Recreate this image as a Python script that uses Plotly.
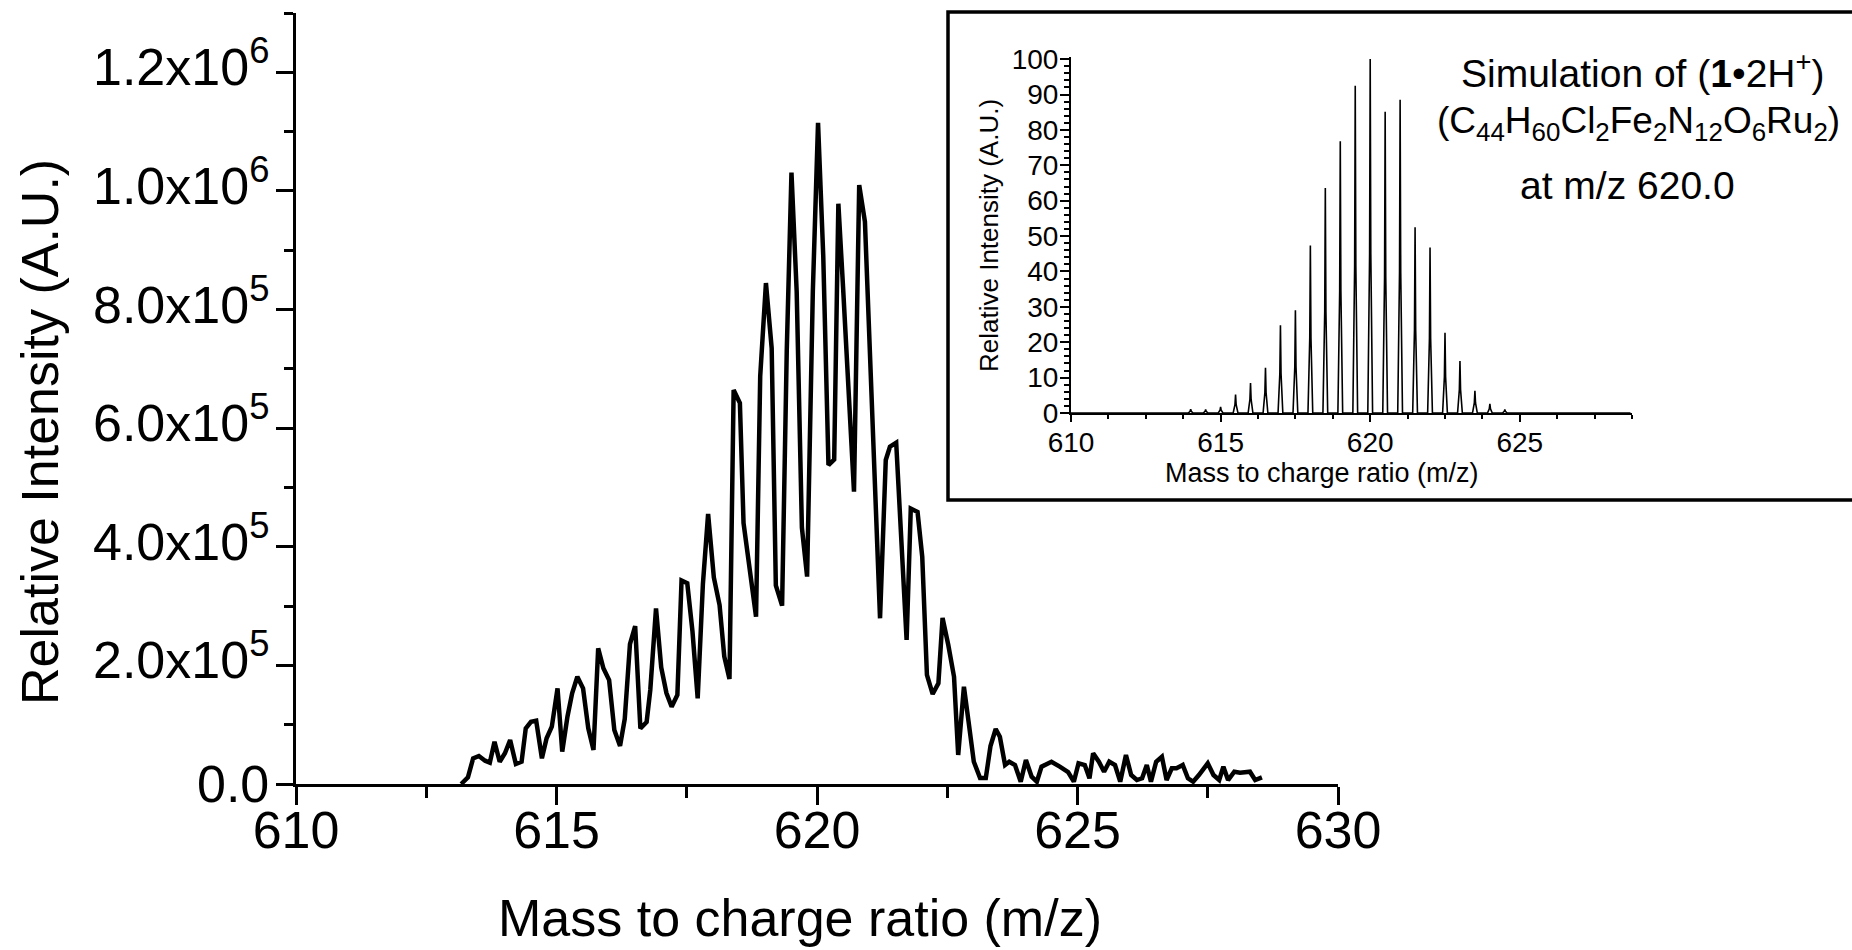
import plotly.graph_objects as go

# ---------------- main spectrum (measured) ----------------
mz_obs = [613.17, 613.30, 613.40, 613.51, 613.63, 613.72, 613.81, 613.91, 614.01, 614.11,
          614.22, 614.33, 614.41, 614.51, 614.61, 614.72, 614.81, 614.91, 615.02, 615.11,
          615.21, 615.30, 615.40, 615.51, 615.61, 615.71, 615.80, 615.90, 616.01, 616.11,
          616.22, 616.31, 616.41, 616.51, 616.61, 616.73, 616.80, 616.91, 617.01, 617.11,
          617.21, 617.32, 617.40, 617.51, 617.61, 617.71, 617.81, 617.91, 618.02, 618.13,
          618.22, 618.32, 618.40, 618.52, 618.59, 618.73, 618.83, 618.91, 619.02, 619.13,
          619.21, 619.33, 619.42, 619.51, 619.61, 619.71, 619.81, 619.92, 620.02, 620.12,
          620.22, 620.33, 620.41, 620.50, 620.71, 620.81, 620.92, 621.21, 621.32, 621.40,
          621.52, 621.72, 621.80, 621.93, 622.02, 622.11, 622.22, 622.33, 622.41, 622.52,
          622.63, 622.71, 622.82, 622.91, 623.01, 623.13, 623.24, 623.33, 623.43, 623.51,
          623.61, 623.69, 623.80, 623.91, 624.01, 624.12, 624.22, 624.31, 624.50, 624.66,
          624.82, 624.93, 625.02, 625.14, 625.23, 625.30, 625.41, 625.51, 625.61, 625.72,
          625.82, 625.93, 626.03, 626.14, 626.24, 626.33, 626.41, 626.51, 626.62, 626.71,
          626.81, 626.90, 627.02, 627.12, 627.22, 627.33, 627.50, 627.61, 627.72, 627.80,
          627.89, 628.01, 628.12, 628.31, 628.41, 628.54]
int_obs = [0, 11300, 43300, 47200, 39300, 35900, 71300, 37600, 51800, 74200,
           33700, 37600, 93900, 105000, 106700, 43300, 77000, 96600, 161300, 54500,
           113500, 152900, 180900, 161300, 93900, 57300, 228800, 195100, 175300, 91000,
           64100, 109600, 236000, 266400, 93600, 104500, 158500, 296200, 196400, 153400,
           130300, 150100, 343100, 338400, 257100, 144500, 337200, 455200, 348200, 301800,
           215000, 177000, 664300, 642400, 440000, 338900, 282100, 687900, 844700, 735100,
           334700, 300800, 732700, 1031000, 830400, 432300, 349700, 830400, 1114800, 890400,
           537800, 547100, 978400, 838000, 492800, 1009900, 948000, 279400, 546300, 568700,
           575400, 242800, 464500, 458600, 383200, 183800, 151700, 169800, 279900, 234400,
           180900, 48900, 164000, 104500, 37600, 10100, 10100, 64100, 92700, 79700,
           32000, 37600, 32000, 3900, 40500, 12300, 3900, 29200, 37600, 29200,
           20200, 3900, 34900, 32000, 9600, 51800, 37600, 20700, 37600, 32000,
           3900, 48900, 15200, 6700, 9600, 32000, 3900, 37600, 46000, 6700,
           26500, 26500, 32000, 9600, 3900, 15200, 34900, 15200, 6700, 29200,
           6700, 20700, 19100, 20700, 6700, 11300]

main_xticks = [610, 615, 620, 625, 630]
main_yticks = [0, 2e5, 4e5, 6e5, 8e5, 1.0e6, 1.2e6]
main_yticklabels = ["0.0", "2.0x10<sup>5</sup>", "4.0x10<sup>5</sup>", "6.0x10<sup>5</sup>",
                    "8.0x10<sup>5</sup>", "1.0x10<sup>6</sup>", "1.2x10<sup>6</sup>"]

# ---------------- inset: simulated isotope pattern ----------------
sim_centers = [614.0, 614.5, 615.0, 615.5, 616.0, 616.5, 617.0, 617.5, 618.0, 618.5, 619.0,
               619.5, 620.0, 620.5, 621.0, 621.5, 622.0, 622.5, 623.0, 623.5, 624.0, 624.5]
sim_heights = [1.1, 1.0, 1.7, 5.2, 8.5, 12.8, 24.8, 29.0, 47.3, 63.6, 76.8,
               92.5, 100.0, 85.1, 88.5, 52.5, 46.8, 22.7, 14.7, 6.3, 2.6, 1.0]
inset_xticks = [610, 615, 620, 625]
inset_yticks = [0, 10, 20, 30, 40, 50, 60, 70, 80, 90, 100]

W, H = 1852, 950
def px(x):
    return x / W
def py(y):
    return (H - y) / H

MAIN_FONT = "Liberation Sans, Arial, sans-serif"
INSET_FONT = "Liberation Sans, Arial, sans-serif"
MS = 52  # main font size

# build the simulated profile from the peak list
half = 0.08
sx, sy = [610.0], [0.0]
for c, h in zip(sim_centers, sim_heights):
    sx += [c - half, c - 0.02, c, c + 0.02, c + half]
    sy += [0.0, h * 0.45, h, h * 0.45, 0.0]
sx.append(628.7)
sy.append(0.0)

fig = go.Figure()
fig.add_trace(go.Scatter(x=mz_obs, y=int_obs, mode="lines",
                         line=dict(color="black", width=4.5), xaxis="x", yaxis="y",
                         showlegend=False, hoverinfo="skip"))
fig.add_trace(go.Scatter(x=sx, y=sy, mode="lines",
                         line=dict(color="black", width=1.6), xaxis="x2", yaxis="y2",
                         showlegend=False, hoverinfo="skip"))

fig.update_layout(
    width=W, height=H,
    margin=dict(l=0, r=0, t=0, b=0),
    paper_bgcolor="white", plot_bgcolor="rgba(0,0,0,0)",
    xaxis=dict(domain=[px(296), px(1338)], range=[610, 630], tickvals=main_xticks,
               ticks="outside", ticklen=18, tickwidth=3, tickcolor="black",
               showline=True, linewidth=3, linecolor="black", showgrid=False, zeroline=False,
               tickfont=dict(family=MAIN_FONT, size=MS, color="black"),
               ticklabelstandoff=-19, automargin=False,
               minor=dict(dtick=2.5, ticks="outside", ticklen=11, tickwidth=3, tickcolor="black", showgrid=False),
               anchor="y"),
    yaxis=dict(domain=[py(784), py(13)], range=[0, 1.3e6], tickvals=main_yticks,
               showticklabels=False,
               ticks="outside", ticklen=17, tickwidth=3, tickcolor="black",
               showline=True, linewidth=3, linecolor="black", showgrid=False, zeroline=False,
               automargin=False,
               minor=dict(dtick=1e5, ticks="outside", ticklen=9, tickwidth=3, tickcolor="black", showgrid=False),
               anchor="x"),
    xaxis2=dict(domain=[px(1071), px(1632)], range=[610, 628.75], tickvals=inset_xticks,
                ticks="outside", ticklen=7, tickwidth=2, tickcolor="black",
                showline=True, linewidth=2, linecolor="black", showgrid=False, zeroline=False,
                tickfont=dict(family=INSET_FONT, size=28, color="black"),
                ticklabelstandoff=-4, automargin=False,
                minor=dict(dtick=1.25, ticks="outside", ticklen=4, tickwidth=2, tickcolor="black", showgrid=False),
                anchor="y2"),
    yaxis2=dict(domain=[py(413), py(57)], range=[0, 100.6], tickvals=inset_yticks,
                ticks="outside", ticklen=9, tickwidth=2, tickcolor="black",
                showline=True, linewidth=2, linecolor="black", showgrid=False, zeroline=False,
                tickfont=dict(family=INSET_FONT, size=28, color="black"),
                ticklabelstandoff=-4, automargin=False,
                minor=dict(dtick=2, ticks="outside", ticklen=5, tickwidth=2, tickcolor="black", showgrid=False),
                anchor="x2"),
    shapes=[dict(type="rect", xref="paper", yref="paper",
                 x0=px(948), x1=1.01, y0=py(500), y1=py(12),
                 fillcolor="white", line=dict(color="black", width=3.5), layer="below")],
)

ann = []
# main y tick labels, placed on the y axis scale
for v, t in zip(main_yticks, main_yticklabels):
    ann.append(dict(text=t, x=px(271), y=v, xref="paper", yref="y", xanchor="right",
                    yanchor="middle", yshift=(9 if "sup" in t else 0),
                    font=dict(family=MAIN_FONT, size=MS)))
ann += [
    dict(text="Mass to charge ratio (m/z)", x=px(800), y=py(918), font=dict(family=MAIN_FONT, size=MS)),
    dict(text="Relative Intensity (A.U.)", x=px(40), y=py(432), textangle=-90, font=dict(family=MAIN_FONT, size=MS)),
    dict(text="Mass to charge ratio (m/z)", x=px(1322), y=py(473), font=dict(family=INSET_FONT, size=27)),
    dict(text="Relative Intensity (A.U.)", x=px(989), y=py(235), textangle=-90, font=dict(family=INSET_FONT, size=26)),
    dict(text="Simulation of (<b>1</b>\u20222H<sup>+</sup>)", x=px(1642), y=py(75), yshift=5,
         font=dict(family=INSET_FONT, size=39)),
    dict(text="(C<sub>44</sub>H<sub>60</sub>Cl<sub>2</sub>Fe<sub>2</sub>N<sub>12</sub>O<sub>6</sub>Ru<sub>2</sub>)",
         x=px(1638), y=py(123), font=dict(family=INSET_FONT, size=37)),
    dict(text="at m/z 620.0", x=px(1627), y=py(187), yshift=2, font=dict(family=INSET_FONT, size=39)),
]
for a in ann:
    a.setdefault("xref", "paper")
    a.setdefault("yref", "paper")
    a.setdefault("xanchor", "center")
    a.setdefault("yanchor", "middle")
    a["showarrow"] = False
    a["font"]["color"] = "black"
fig.update_layout(annotations=ann)

fig.write_html("out.html")
